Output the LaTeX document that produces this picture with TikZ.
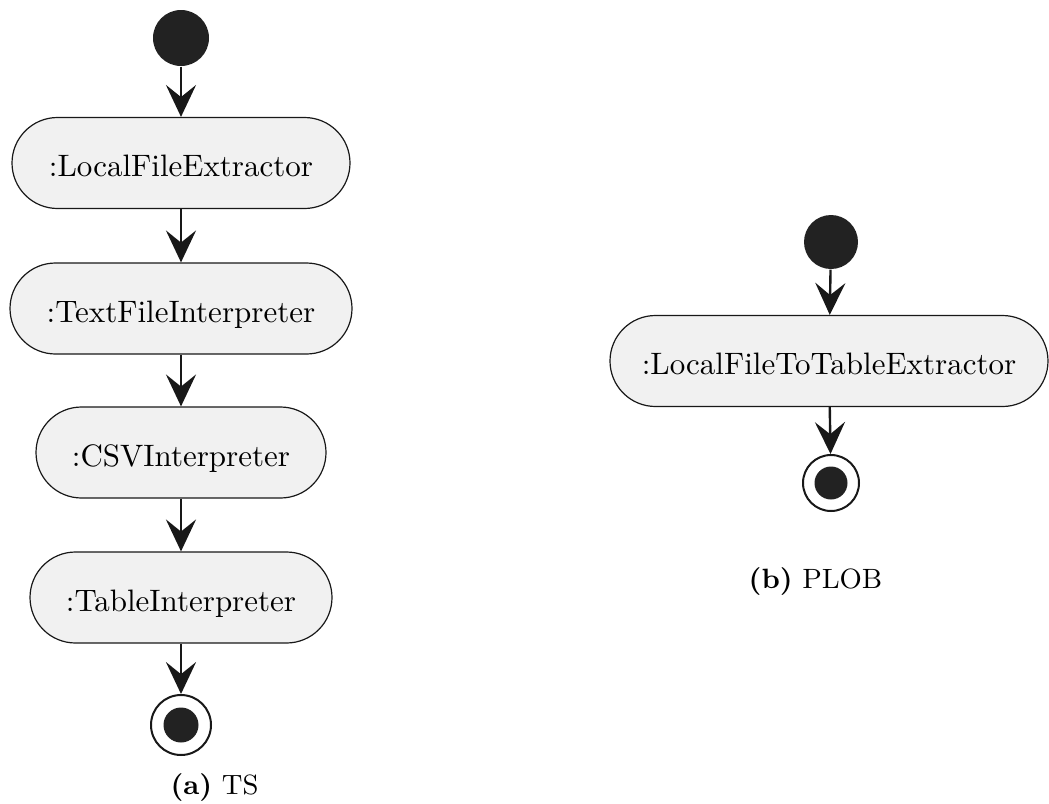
\documentclass[tikz,border=0pt]{standalone}
\usetikzlibrary{arrows.meta}
\newdimen\pxu
\pxu=0.32258pt
\definecolor{actfill}{HTML}{F1F1F1}
\definecolor{dotcol}{HTML}{222222}
\definecolor{inkcol}{HTML}{181818}
\tikzset{
  action/.style={draw=inkcol, line width=1.2\pxu, fill=actfill, rectangle,
    rounded corners=45.5\pxu, minimum height=91\pxu, inner sep=0pt, font=\normalsize,
    text height=9pt, text depth=0pt},
  startdot/.style={circle, fill=dotcol, draw=none, minimum size=#1, inner sep=0pt},
  enddot/.style={circle, draw=inkcol, fill=white, line width=2\pxu, minimum size=#1, inner sep=0pt},
  flow/.style={draw=inkcol, line width=0.77pt,
    -{Stealth[length=10.3pt, width=9.7pt, inset=3.9pt]}},
  captext/.style={font=\small, inner sep=0pt}
}
\begin{document}
\begin{tikzpicture}[x=\pxu, y=-\pxu]
  \useasboundingbox (0,0) rectangle (1049,803);

  % (a) TS pipeline
  \node[startdot=56\pxu] (s1) at (181,38) {};
  \node[action, minimum width=338\pxu] (a1) at (181,163) {:LocalFileExtractor};
  \node[action, minimum width=342\pxu] (a2) at (181,308.5) {:TextFileInterpreter};
  \node[action, minimum width=290\pxu] (a3) at (181,452.5) {:CSVInterpreter};
  \node[action, minimum width=302\pxu] (a4) at (181,597.5) {:TableInterpreter};
  \node[enddot=60\pxu, path picture={\fill[dotcol] (path picture bounding box.center) circle (17.5\pxu);}] (e1) at (181,725) {};
  \node[captext] (capA) at (214.5,788) {\textbf{(a)} TS};

  \draw[flow] (s1) -- (a1);
  \draw[flow] (a1) -- (a2);
  \draw[flow] (a2) -- (a3);
  \draw[flow] (a3) -- (a4);
  \draw[flow] (a4) -- (e1);

  % (b) PLOB pipeline
  \node[startdot=54\pxu] (s2) at (831,242) {};
  \node[action, minimum width=438\pxu] (b1) at (829,361) {:LocalFileToTableExtractor};
  \node[enddot=56\pxu, path picture={\fill[dotcol] (path picture bounding box.center) circle (16.5\pxu);}] (e2) at (831,483) {};
  \node[captext] (capB) at (815.5,582) {\textbf{(b)} PLOB};

  \draw[flow] (s2) -- (b1);
  \draw[flow] (b1) -- (e2);
\end{tikzpicture}
\end{document}
